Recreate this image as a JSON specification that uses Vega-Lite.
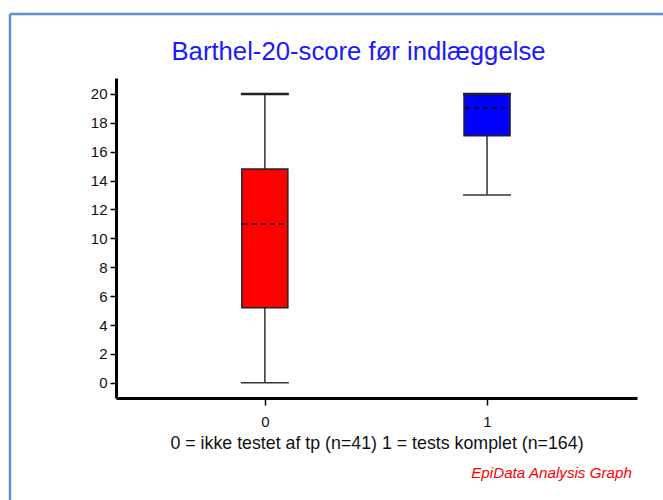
{
  "$schema": "https://vega.github.io/schema/vega-lite/v6.json",
  "width": 521,
  "height": 320,
  "autosize": {"type": "none"},
  "padding": {"left": 116, "top": 78, "right": 26, "bottom": 102},
  "background": "white",
  "config": {
    "view": {"stroke": null},
    "font": "Liberation Sans",
    "axisY": {"labelOverlap": false, "tickCount": 11}
  },
  "title": {
    "text": "Barthel-20-score før indlæggelse",
    "fontSize": 25.7,
    "fontWeight": "normal",
    "color": "#1a1aff",
    "font": "Liberation Sans",
    "anchor": "middle",
    "frame": "group",
    "baseline": "alphabetic",
    "dx": -18,
    "offset": -73
  },
  "data": {
    "values": [
      {"group": 0, "min": 0, "q1": 5.2, "median": 11, "q3": 14.8, "max": 20, "color": "red"},
      {"group": 1, "min": 13, "q1": 17.1, "median": 19, "q3": 20, "max": 20, "color": "blue"}
    ]
  },
  "layer": [
    {
      "mark": {"type": "rule", "color": "#333", "strokeWidth": 1.5},
      "encoding": {
        "x": {
          "field": "group",
          "type": "quantitative",
          "scale": {"domain": [-0.67, 1.675], "nice": false, "zero": false},
          "axis": {
            "values": [0, 1],
            "format": "d",
            "title": "0 = ikke testet af tp (n=41) 1 = tests komplet (n=164)",
            "titleFontSize": 17.8,
            "titleFontWeight": "normal",
            "titleColor": "#111",
            "titlePadding": 5,
            "labelFontSize": 15,
            "labelColor": "#111",
            "labelPadding": 9,
            "domainColor": "black",
            "domainWidth": 3,
            "tickColor": "black",
            "tickSize": 7,
            "tickWidth": 1.5,
            "grid": false
          }
        },
        "y": {
          "field": "min",
          "type": "quantitative",
          "scale": {"domain": [-1.05, 21.1], "nice": false, "zero": false},
          "axis": {
            "values": [0, 2, 4, 6, 8, 10, 12, 14, 16, 18, 20],
            "labelOverlap": false,
            "title": null,
            "labelFontSize": 15,
            "labelColor": "#111",
            "labelPadding": 3,
            "domainColor": "black",
            "domainWidth": 3,
            "tickColor": "black",
            "tickSize": 6,
            "tickWidth": 1.5,
            "grid": false
          }
        },
        "y2": {"field": "q1"}
      }
    },
    {
      "mark": {"type": "rule", "color": "#333", "strokeWidth": 1.5},
      "encoding": {
        "x": {"field": "group", "type": "quantitative"},
        "y": {"field": "q3", "type": "quantitative", "axis": {"values": [0, 2, 4, 6, 8, 10, 12, 14, 16, 18, 20], "labelOverlap": false}},
        "y2": {"field": "max"}
      }
    },
    {
      "mark": {"type": "rule", "color": "#333", "strokeWidth": 1.5, "xOffset": -24, "x2Offset": 24},
      "encoding": {
        "x": {"field": "group", "type": "quantitative"},
        "x2": {"field": "group"},
        "y": {"field": "min", "type": "quantitative", "axis": {"values": [0, 2, 4, 6, 8, 10, 12, 14, 16, 18, 20], "labelOverlap": false}}
      }
    },
    {
      "mark": {"type": "rect", "stroke": "#222", "strokeWidth": 1.5, "xOffset": -23, "x2Offset": 23},
      "encoding": {
        "x": {"field": "group", "type": "quantitative"},
        "x2": {"field": "group"},
        "y": {"field": "q1", "type": "quantitative", "axis": {"values": [0, 2, 4, 6, 8, 10, 12, 14, 16, 18, 20], "labelOverlap": false}},
        "y2": {"field": "q3"},
        "fill": {"field": "color", "type": "nominal", "scale": null}
      }
    },
    {
      "mark": {"type": "rule", "color": "#222", "strokeWidth": 2.5, "xOffset": -24, "x2Offset": 24},
      "encoding": {
        "x": {"field": "group", "type": "quantitative"},
        "x2": {"field": "group"},
        "y": {"field": "max", "type": "quantitative", "axis": {"values": [0, 2, 4, 6, 8, 10, 12, 14, 16, 18, 20], "labelOverlap": false}}
      }
    },
    {
      "mark": {"type": "rule", "color": "black", "strokeWidth": 1.5, "strokeDash": [5, 4], "xOffset": -22, "x2Offset": 22},
      "encoding": {
        "x": {"field": "group", "type": "quantitative"},
        "x2": {"field": "group"},
        "y": {"field": "median", "type": "quantitative", "axis": {"values": [0, 2, 4, 6, 8, 10, 12, 14, 16, 18, 20], "labelOverlap": false}}
      }
    },
    {
      "data": {"values": [{"label": "EpiData Analysis Graph"}]},
      "mark": {"type": "text", "color": "red", "fontStyle": "italic", "fontSize": 15.2, "align": "right", "baseline": "middle", "clip": false},
      "encoding": {
        "x": {"datum": 1.652, "type": "quantitative"},
        "y": {"datum": -6.22, "type": "quantitative"},
        "text": {"field": "label", "type": "nominal"}
      }
    },
    {
      "data": {"values": [{"edge": "frame"}]},
      "mark": {"type": "rule", "color": "#5b8fd6", "strokeWidth": 2.5, "clip": false},
      "encoding": {
        "x": {"datum": -1.147, "type": "quantitative"},
        "x2": {"datum": 2.1},
        "y": {"datum": 25.53, "type": "quantitative"}
      }
    },
    {
      "data": {"values": [{"edge": "frame"}]},
      "mark": {"type": "rule", "color": "#5b8fd6", "strokeWidth": 2.5, "clip": false},
      "encoding": {
        "x": {"datum": -1.147, "type": "quantitative"},
        "y": {"datum": 25.53, "type": "quantitative"},
        "y2": {"datum": -9}
      }
    }
  ]
}
